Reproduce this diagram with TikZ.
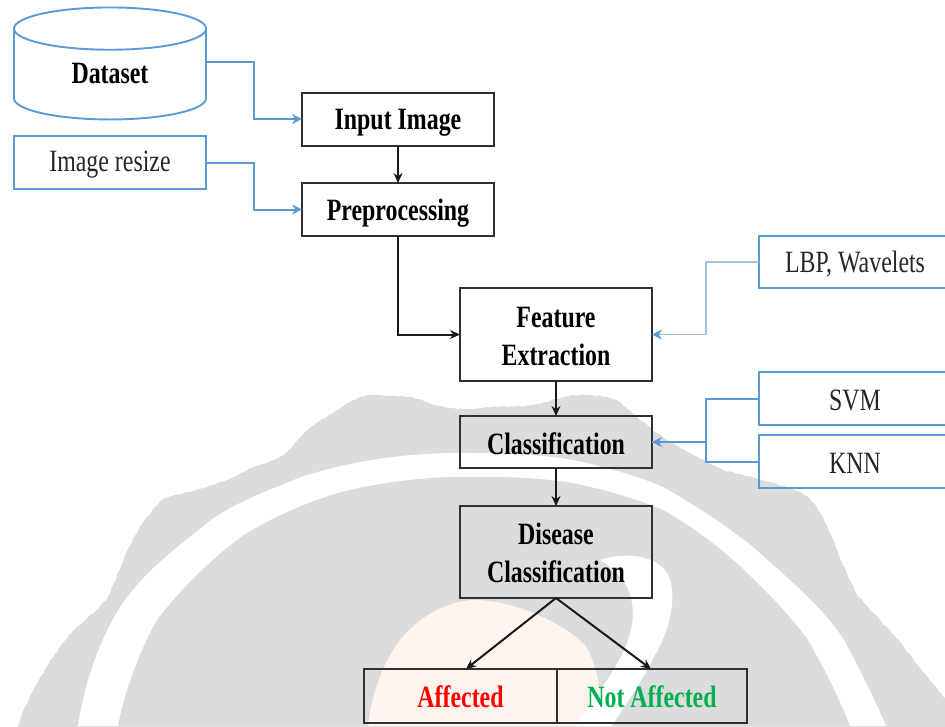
\documentclass[tikz,border=0pt]{standalone}
\usepackage{fontspec}
\setmainfont[FakeStretch=0.77]{Liberation Serif}
\usetikzlibrary{arrows.meta,shapes.geometric,decorations.pathmorphing}
\definecolor{wmgrey}{HTML}{DCDCDC}
\definecolor{wmorange}{HTML}{FDF5EE}
\definecolor{lineblue}{HTML}{5B9BD5}
\definecolor{paleblue}{HTML}{9DC3E6}
\definecolor{boxline}{HTML}{303030}
\definecolor{okgreen}{HTML}{00B050}
\newcommand{\lowtxt}[2][3pt]{\raisebox{-#1}[\height][\depth]{#2}}
\tikzset{
  blackbox/.style={draw=boxline,line width=2pt,inner sep=0pt,outer sep=0pt,align=center,
    font=\fontsize{31}{38.5}\selectfont\bfseries,text=black},
  bluebox/.style={draw=lineblue,line width=1.9pt,inner sep=0pt,outer sep=0pt,align=center,
    font=\fontsize{31}{38}\selectfont,text=black!85},
  blackarrow/.style={draw=black!90,line width=2pt,-{Stealth[length=10pt,width=9pt]}},
  bluearrow/.style={draw=lineblue,line width=2pt,-{Stealth[length=10pt,width=10pt]}},
  palearrow/.style={draw=paleblue,line width=1.3pt,-{Stealth[length=10pt,width=10pt,color=lineblue]}},
  blueline/.style={draw=lineblue,line width=2pt}
}
\begin{document}
\begin{tikzpicture}[x=1pt,y=-1pt]
\path[clip] (0,0) rectangle (945,726);
% watermark
\fill[wmgrey,decorate,decoration={random steps,segment length=3pt,amplitude=0.6pt}] (18,740) -- (18,726) .. controls (30,690) and (45,670) .. (60,647)
  .. controls (75,625) and (95,615) .. (108,597)
  .. controls (120,570) and (130,540) .. (145,520)
  .. controls (155,505) and (160,500) .. (169,497)
  .. controls (195,490) and (220,485) .. (241,473)
  .. controls (262,462) and (278,462) .. (289,450)
  .. controls (305,430) and (320,420) .. (338,410)
  .. controls (350,400) and (362,395) .. (374,395)
  .. controls (395,396) and (410,396) .. (422,400)
  .. controls (445,410) and (465,410) .. (482,408)
  .. controls (505,405) and (525,408) .. (542,403)
  .. controls (560,398) and (572,394) .. (585,395)
  .. controls (600,395) and (610,396) .. (621,403)
  .. controls (640,420) and (650,428) .. (663,437)
  .. controls (685,452) and (705,460) .. (723,470)
  .. controls (760,480) and (790,485) .. (808,497)
  .. controls (820,510) and (825,520) .. (832,537)
  .. controls (840,560) and (848,575) .. (856,593)
  .. controls (870,610) and (890,630) .. (904,647)
  .. controls (920,670) and (935,685) .. (950,705)
  -- (950,740) -- cycle;
\fill[white] (78,726) .. controls (85,680) and (100,640) .. (120,607)
  .. controls (145,570) and (180,545) .. (211,520)
  .. controls (240,500) and (270,490) .. (301,477)
  .. controls (360,458) and (420,452) .. (470,453)
  .. controls (510,453) and (545,455) .. (573,460)
  .. controls (605,467) and (635,475) .. (663,487)
  .. controls (695,505) and (725,525) .. (753,547)
  .. controls (790,580) and (825,610) .. (844,640)
  .. controls (860,670) and (875,700) .. (886,726) -- cycle;
\fill[wmgrey] (118,726) .. controls (125,690) and (140,650) .. (157,620)
  .. controls (180,590) and (210,560) .. (241,537)
  .. controls (270,518) and (305,503) .. (338,493)
  .. controls (380,482) and (430,476) .. (470,477)
  .. controls (505,476) and (540,478) .. (573,483)
  .. controls (605,490) and (635,498) .. (663,510)
  .. controls (695,528) and (720,548) .. (741,567)
  .. controls (765,590) and (790,615) .. (808,640)
  .. controls (825,670) and (840,700) .. (850,726) -- cycle;
\fill[wmorange] (368,726) .. controls (372,690) and (385,660) .. (400,640)
  .. controls (420,615) and (450,600) .. (475,600)
  .. controls (510,600) and (560,620) .. (585,645)
  .. controls (600,670) and (603,700) .. (597,726) -- cycle;
\fill[white] (600,560) .. controls (620,553) and (650,553) .. (665,570)
  .. controls (680,590) and (670,630) .. (655,655)
  .. controls (640,685) and (625,705) .. (612,726)
  -- (575,726) .. controls (590,700) and (625,665) .. (632,625)
  .. controls (636,595) and (625,575) .. (600,560) -- cycle;
% nodes
\node[bluebox,cylinder,shape border rotate=90,aspect=0.55,minimum width=192pt,minimum height=112pt,
  font=\fontsize{31}{38}\selectfont\bfseries,text=black] (dataset) at (110,74.5) {\lowtxt[-1pt]{Dataset}};
\node[bluebox,minimum width=192pt,minimum height=53pt] (resize) at (110,162.5) {\lowtxt[2pt]{Image resize}};
\node[blackbox,minimum width=192pt,minimum height=53pt] (input) at (398,119) {\lowtxt[4pt]{Input Image}};
\node[blackbox,minimum width=192pt,minimum height=53pt] (prep) at (398,209.5) {\lowtxt[4pt]{Preprocessing}};
\node[blackbox,minimum width=192pt,minimum height=93pt] (feature) at (556,334.5) {\lowtxt[2pt]{Feature}\\\lowtxt[2pt]{Extraction}};
\node[blackbox,minimum width=192pt,minimum height=52pt] (classif) at (556,442) {\lowtxt[2pt]{Classification}};
\node[blackbox,minimum width=192pt,minimum height=92pt] (disease) at (556,552) {\lowtxt[1pt]{Disease}\\\lowtxt[1pt]{Classification}};
\node[blackbox,minimum width=193pt,minimum height=54pt,text=red] (affected) at (460.5,696) {\lowtxt[1pt]{Affected}};
\node[blackbox,minimum width=190pt,minimum height=54pt,text=okgreen] (notaff) at (652,696) {\lowtxt[1pt]{Not Affected}};
\node[bluebox,minimum width=192pt,minimum height=52pt] (lbp) at (855,262) {\lowtxt[2pt]{LBP, Wavelets}};
\node[bluebox,minimum width=192pt,minimum height=53pt] (svm) at (855,398.5) {\lowtxt[2pt]{SVM}};
\node[bluebox,minimum width=192pt,minimum height=53pt] (knn) at (855,461.5) {\lowtxt[2pt]{KNN}};
% free ends
\coordinate (affin) at (466,669);
\coordinate (notin) at (651,669);
% connectors
\draw[blackarrow] (input) -- (prep);
\draw[blackarrow] (prep.south) |- (feature.west);
\draw[blackarrow] (feature) -- (classif);
\draw[blackarrow] (classif) -- (disease);
\draw[blackarrow] (disease.south) -- (affin);
\draw[blackarrow] (disease.south) -- (notin);
\draw[bluearrow] ([yshift=12.5pt]dataset.east) -- ++(48,0) |- (input.west);
\draw[bluearrow] (resize.east) -- ++(48,0) |- (prep.west);
\draw[palearrow] (lbp.west) -- ++(-53,0) |- (feature.east);
\draw[bluearrow] (svm.west) -- ++(-53,0) |- (classif.east);
\draw[blueline] (knn.west) -- ++(-53,0) |- (classif.east);
\end{tikzpicture}
\end{document}
